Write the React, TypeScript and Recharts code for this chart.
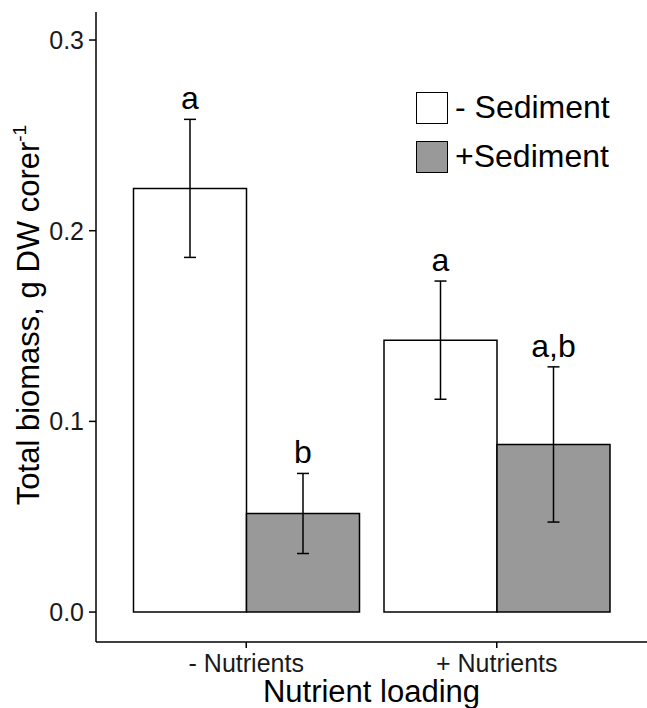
import { BarChart, Bar, XAxis, YAxis, ErrorBar, LabelList, Legend } from 'recharts';

const loading = ['- Nutrients', '+ Nutrients'];
const noSediment = [0.2222, 0.1426];
const noSedimentSE = [0.0362, 0.031];
const plusSediment = [0.0517, 0.0879];
const plusSedimentSE = [0.021, 0.0407];
const noSedimentLetters = ['a', 'a'];
const plusSedimentLetters = ['b', 'a,b'];
const yTicks = [0, 0.1, 0.2, 0.3];

const FONT = '"Liberation Sans", Arial, Helvetica, sans-serif';
const GREY = '#999999';

const data = loading.map((name, i) => ({
  loading: name,
  minus: noSediment[i],
  minusSE: noSedimentSE[i],
  plus: plusSediment[i],
  plusSE: plusSedimentSE[i],
}));

// letter sits just above the upper whisker; pixels-per-unit taken from the bar itself
function letterLabel(values: number[], errs: number[], letters: string[]) {
  return (props: any) => {
    const vb = props.viewBox || props;
    const { x, y, width, height } = vb;
    const i = props.index;
    const ppu = height / values[i];
    const top = y - errs[i] * ppu;
    return (
      <text
        x={x + width / 2}
        y={top - 10}
        textAnchor="middle"
        fontSize={32}
        fontFamily={FONT}
        fill="#000"
      >
        {letters[i]}
      </text>
    );
  };
}

function LegendBox() {
  const rows = [
    { label: '- Sediment', fill: '#ffffff' },
    { label: '+Sediment', fill: GREY },
  ];
  return (
    <div style={{ fontFamily: FONT }}>
      {rows.map((r) => (
        <div
          key={r.label}
          style={{ display: 'flex', alignItems: 'center', height: 33, marginBottom: 16 }}
        >
          <div
            style={{
              width: 30,
              height: 30,
              background: r.fill,
              border: '1.5px solid #000',
              marginRight: 7,
            }}
          />
          <span style={{ fontSize: 32, color: '#000', lineHeight: '33px' }}>{r.label}</span>
        </div>
      ))}
    </div>
  );
}

export default function App() {
  return (
    <div style={{ position: 'absolute', left: 0, top: 0, background: '#fff' }}>
      <BarChart
        width={647}
        height={708}
        data={data}
        margin={{ top: 12, right: 0, bottom: 0, left: 0 }}
        barCategoryGap={12.5}
        barGap={0}
      >
        <XAxis
          dataKey="loading"
          padding={{ left: 25, right: 25 }}
          height={66}
          tickSize={6}
          tickMargin={6}
          axisLine={{ stroke: '#000', strokeWidth: 1.5 }}
          tickLine={{ stroke: '#000', strokeWidth: 1.5 }}
          tick={{ fontSize: 25, fill: '#1a1a1a', fontFamily: FONT }}
          label={{
            content: (p: any) => {
              const vb = p.viewBox;
              return (
                <text
                  x={vb.x + vb.width / 2}
                  y={vb.y + 60}
                  textAnchor="middle"
                  fontSize={31}
                  fontFamily={FONT}
                  fill="#000"
                >
                  Nutrient loading
                </text>
              );
            },
          }}
        />
        <YAxis
          width={96}
          domain={[-0.0157, 0.3147]}
          ticks={yTicks}
          allowDataOverflow
          tickFormatter={(v: number) => v.toFixed(1)}
          tickSize={7}
          tickMargin={5}
          axisLine={{ stroke: '#000', strokeWidth: 1.5 }}
          tickLine={{ stroke: '#000', strokeWidth: 1.5 }}
          tick={{ fontSize: 25, fill: '#1a1a1a', fontFamily: FONT }}
          label={{
            content: (p: any) => {
              const vb = p.viewBox;
              const cy = vb.y + vb.height / 2 - 12;
              return (
                <text
                  x={39}
                  y={cy}
                  transform={`rotate(-90, 39, ${cy})`}
                  textAnchor="middle"
                  fontSize={31}
                  fontFamily={FONT}
                  fill="#000"
                >
                  Total biomass, g DW corer
                  <tspan fontSize={19} dy={-13}>-1</tspan>
                </text>
              );
            },
          }}
        />
        <Legend
          verticalAlign="middle"
          align="center"
          layout="horizontal"
          wrapperStyle={{ position: 'absolute', left: 416, top: 91, width: 225 }}
          content={() => <LegendBox />}
        />
        <Bar
          dataKey="minus"
          name="- Sediment"
          fill="#ffffff"
          stroke="#000"
          strokeWidth={1.5}
          isAnimationActive={false}
        >
          <ErrorBar dataKey="minusSE" width={6} stroke="#000" strokeWidth={1.5} />
          <LabelList content={letterLabel(noSediment, noSedimentSE, noSedimentLetters)} />
        </Bar>
        <Bar
          dataKey="plus"
          name="+Sediment"
          fill={GREY}
          stroke="#000"
          strokeWidth={1.5}
          isAnimationActive={false}
        >
          <ErrorBar dataKey="plusSE" width={6} stroke="#000" strokeWidth={1.5} />
          <LabelList content={letterLabel(plusSediment, plusSedimentSE, plusSedimentLetters)} />
        </Bar>
      </BarChart>
    </div>
  );
}
